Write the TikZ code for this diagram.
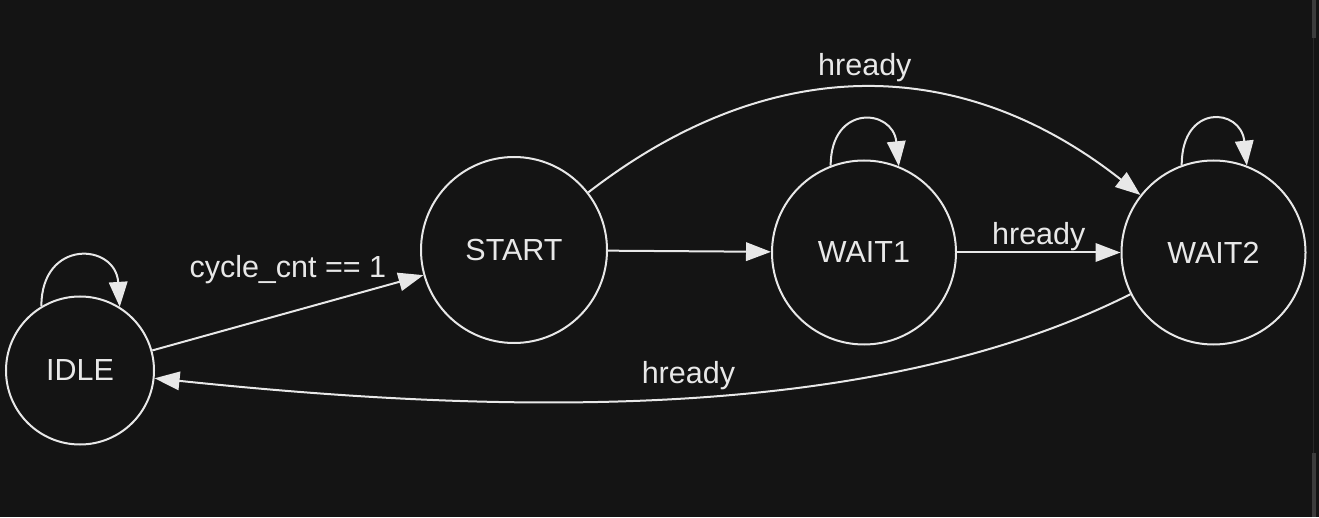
\documentclass[tikz,border=0pt]{standalone}
\usepackage{fontspec}
\setmainfont{Liberation Sans}
\usetikzlibrary{positioning,arrows.meta}

\definecolor{bgc}{RGB}{20,20,20}
\definecolor{inkc}{RGB}{232,232,232}
\definecolor{barc}{RGB}{60,60,60}
\definecolor{trackc}{RGB}{40,40,40}

\begin{document}
\begin{tikzpicture}[
    x=1pt, y=1pt,
    state/.style={circle, draw=inkc, line width=2pt, inner sep=0pt, text=inkc, font=\fontsize{30.5}{36}\selectfont},
    lbl/.style={text=inkc, font=\fontsize{30.5}{36}\selectfont, inner sep=0pt},
    arrow/.style={-{Triangle[length=25pt, width=18.5pt]}, draw=inkc, line width=2pt}
]

% Background and scroll bar
\fill[bgc] (0,0) rectangle (1319,517);
\useasboundingbox (0,0) rectangle (1319,517);
\fill[barc] (1312,479) rectangle (1316,517);
\fill[barc] (1312,0) rectangle (1316,64);
\fill[trackc] (1312.5,64) rectangle (1314,479);

% States
\node[state, minimum size=148pt] (idle) at (80,146.5) {IDLE};
\node[state, minimum size=186pt, right=265pt of idle, yshift=120.5pt] (start) {START};
\node[state, minimum size=184pt, right=163pt of start, yshift=-2.5pt] (wait1) {WAIT1};
\node[state, minimum size=184pt, right=163.5pt of wait1] (wait2) {WAIT2};

% Self loops
\draw[arrow] (idle.121) .. controls +(0,68) and +(-4,64) .. (idle.58);
\draw[arrow] (wait1.111) .. controls +(0,62) and +(-6,58) .. (wait1.68);
\draw[arrow] (wait2.110) .. controls +(0,62) and +(-6,58) .. (wait2.69);

% Transitions
\draw[arrow] (idle) -- node[lbl, midway, anchor=base, yshift=35pt] (lblcnt) {cycle\_cnt == 1} (start);
\draw[arrow] (start) -- (wait1);
\draw[arrow] (wait1) -- node[lbl, midway, anchor=base, yshift=8pt] (lblmid) {hready} (wait2);
\draw[arrow] (start) to[bend left=38, looseness=1.06] node[lbl, midway, anchor=base, yshift=12pt] (lbltop) {hready} (wait2);
\draw[arrow] (wait2) .. controls (870,92) and (497,103) .. (idle) node[lbl, pos=0.485, anchor=base, yshift=14pt] (lblback) {hready};

\end{tikzpicture}
\end{document}
